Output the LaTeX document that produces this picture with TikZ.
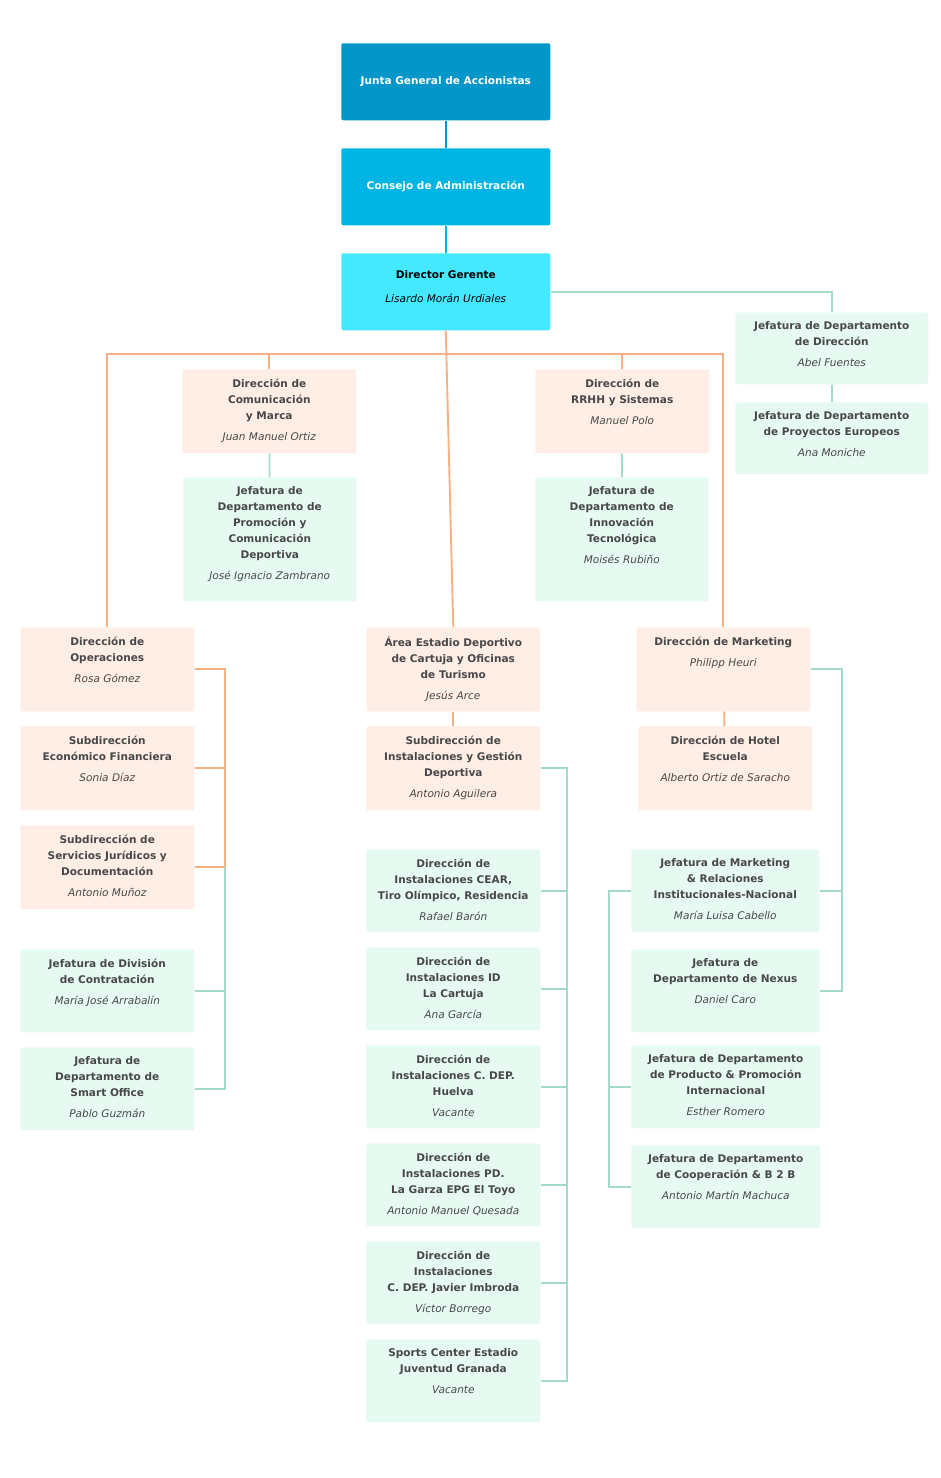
\documentclass[tikz,border=0pt]{standalone}
\usepackage{fontspec}
\setmainfont{DejaVu Sans}
\usepackage{tikz}
\usetikzlibrary{positioning}
\definecolor{junta}{RGB}{2,150,201}
\definecolor{consejo}{RGB}{0,180,228}
\definecolor{gerente}{RGB}{68,232,255}
\definecolor{peach}{RGB}{255,238,230}
\definecolor{mint}{RGB}{230,250,242}
\definecolor{orng}{RGB}{246,176,130}
\definecolor{grn}{RGB}{166,218,200}
\definecolor{txt}{RGB}{72,72,72}
\tikzset{
  box/.style={draw=none,rounded corners=1.5pt,anchor=north west,inner sep=0pt},
  pbox/.style={box,fill=peach},
  gbox/.style={box,fill=mint},
  lbl/.style={anchor=north,align=center,inner sep=0pt,text=txt,
    font=\fontsize{7.9}{12}\selectfont\bfseries},
  oline/.style={draw=orng,line width=1.4pt},
  gline/.style={draw=grn,line width=1.4pt},
}
% \orgbox{name}{style}{x}{y}{w}{h}{title}{person}
\newcommand{\orgbox}[8]{%
  \node[#2,minimum width=#5*0.75pt,minimum height=#6*0.75pt] (#1) at (#3,#4) {};
  \node[lbl] (#1-t) at ([yshift=-7pt]#1.north) {#7\\[4pt]\mdseries\itshape #8};
}
\begin{document}
\begin{tikzpicture}[x=0.75pt,y=-0.75pt]
\useasboundingbox (0,0) rectangle (940,1478);
% top of the chart
\node[box,fill=junta,minimum width=209*0.75pt,minimum height=77*0.75pt,text=white,
  font=\fontsize{7.9}{12}\selectfont\bfseries] (junta) at (341,43) {Junta General de Accionistas};
\node[box,fill=consejo,minimum width=209*0.75pt,minimum height=77*0.75pt,text=white,
  font=\fontsize{7.9}{12}\selectfont\bfseries] (consejo) at (341,148) {Consejo de Administración};
\node[box,fill=gerente,minimum width=209*0.75pt,minimum height=77*0.75pt] (dg) at (341,253) {};
\node[lbl,text=black] (dg-t) at ([yshift=-13pt]dg.north) {Director Gerente\\[6pt]\mdseries\itshape Lisardo Morán Urdiales};
% right column
\orgbox{jdir}{gbox}{735}{312}{193}{72}{Jefatura de Departamento\\de Dirección}{Abel Fuentes}
\orgbox{jproy}{gbox}{735}{402}{193}{72}{Jefatura de Departamento\\de Proyectos Europeos}{Ana Moniche}
% second row
\orgbox{com}{pbox}{182}{369}{174}{84}{Dirección de\\Comunicación\\y Marca}{Juan Manuel Ortiz}
\orgbox{promo}{gbox}{183}{477}{173}{124}{Jefatura de\\Departamento de\\Promoción y\\Comunicación\\Deportiva}{José Ignacio Zambrano}
\orgbox{rrhh}{pbox}{535}{369}{174}{84}{Dirección de\\RRHH y Sistemas}{Manuel Polo}
\orgbox{innov}{gbox}{535}{477}{173}{124}{Jefatura de\\Departamento de\\Innovación\\Tecnológica}{Moisés Rubiño}
% left column
\orgbox{oper}{pbox}{20}{627}{174}{84}{Dirección de\\Operaciones}{Rosa Gómez}
\orgbox{econ}{pbox}{20}{726}{174}{84}{Subdirección\\Económico Financiera}{Sonia Díaz}
\orgbox{jur}{pbox}{20}{825}{174}{84}{Subdirección de\\Servicios Jurídicos y\\Documentación}{Antonio Muñoz}
\orgbox{contr}{gbox}{20}{949}{174}{83}{Jefatura de División\\de Contratación}{María José Arrabalín}
\orgbox{smart}{gbox}{20}{1047}{174}{83}{Jefatura de\\Departamento de\\Smart Office}{Pablo Guzmán}
% middle column
\orgbox{area}{pbox}{366}{627}{174}{84}{Área Estadio Deportivo\\de Cartuja y Oficinas\\de Turismo}{Jesús Arce}
\orgbox{inst}{pbox}{366}{726}{174}{84}{Subdirección de\\Instalaciones y Gestión\\Deportiva}{Antonio Aguilera}
\orgbox{cear}{gbox}{366}{849}{174}{83}{Dirección de\\Instalaciones CEAR,\\Tiro Olímpico, Residencia}{Rafael Barón}
\orgbox{idc}{gbox}{366}{947}{174}{83}{Dirección de\\Instalaciones ID\\La Cartuja}{Ana García}
\orgbox{huelva}{gbox}{366}{1045}{174}{83}{Dirección de\\Instalaciones C. DEP.\\Huelva}{Vacante}
\orgbox{garza}{gbox}{366}{1143}{174}{83}{Dirección de\\Instalaciones PD.\\La Garza EPG El Toyo}{Antonio Manuel Quesada}
\orgbox{imbroda}{gbox}{366}{1241}{174}{83}{Dirección de\\Instalaciones\\C. DEP. Javier Imbroda}{Víctor Borrego}
\orgbox{sports}{gbox}{366}{1339}{174}{83}{Sports Center Estadio\\Juventud Granada}{Vacante}
% marketing column
\orgbox{mkt}{pbox}{636}{627}{174}{84}{Dirección de Marketing}{Philipp Heuri}
\orgbox{hotel}{pbox}{638}{726}{174}{84}{Dirección de Hotel\\Escuela}{Alberto Ortiz de Saracho}
\orgbox{jmkt}{gbox}{631}{849}{188}{83}{Jefatura de Marketing\\\& Relaciones\\Institucionales-Nacional}{María Luisa Cabello}
\orgbox{nexus}{gbox}{631}{949}{188}{83}{Jefatura de\\Departamento de Nexus}{Daniel Caro}
\orgbox{prod}{gbox}{631}{1045}{189}{83}{Jefatura de Departamento\\de Producto \& Promoción\\Internacional}{Esther Romero}
\orgbox{coop}{gbox}{631}{1145}{189}{83}{Jefatura de Departamento\\de Cooperación \& B 2 B}{Antonio Martín Machuca}
% connectors
\coordinate (bus) at (446,354);
\coordinate (opbus) at (225,0);
\coordinate (insbus) at (567,0);
\coordinate (mkbus) at (842,0);
\coordinate (lfbus) at (609,0);
\draw[draw=junta,line width=1.4pt] (junta) -- (consejo);
\draw[draw=consejo,line width=1.4pt] (consejo) -- (dg);
\draw[gline] (dg.east) -| (jdir.north);
\draw[gline] (jdir) -- (jproy);
\draw[oline] (dg.south) -- (area.north);
\draw[oline] (oper.north) |- (bus) -| (mkt.north);
\draw[oline] (com.north) -- (com.north |- bus);
\draw[oline] (rrhh.north) -- (rrhh.north |- bus);
\draw[gline] (com) -- (promo);
\draw[gline] (rrhh) -- (innov);
\draw[oline] (oper.east) -| (opbus |- jur.east) -- (jur.east);
\draw[oline] (econ.east) -- (econ.east -| opbus);
\draw[gline] (opbus |- jur.east) |- (smart.east);
\draw[gline] (contr.east) -- (contr.east -| opbus);
\draw[oline] (area) -- (inst);
\draw[gline] (inst.east) -| (insbus |- sports.east) -- (sports.east);
\foreach \n in {cear,idc,huelva,garza,imbroda}
  \draw[gline] (\n.east) -- (\n.east -| insbus);
\draw[oline] (mkt) -- (hotel);
\draw[gline] (mkt.east) -| (mkbus |- nexus.east) -- (nexus.east);
\draw[gline] (jmkt.east) -- (jmkt.east -| mkbus);
\draw[gline] (jmkt.west) -| (lfbus |- coop.west) -- (coop.west);
\draw[gline] (prod.west) -- (prod.west -| lfbus);
\end{tikzpicture}
\end{document}
